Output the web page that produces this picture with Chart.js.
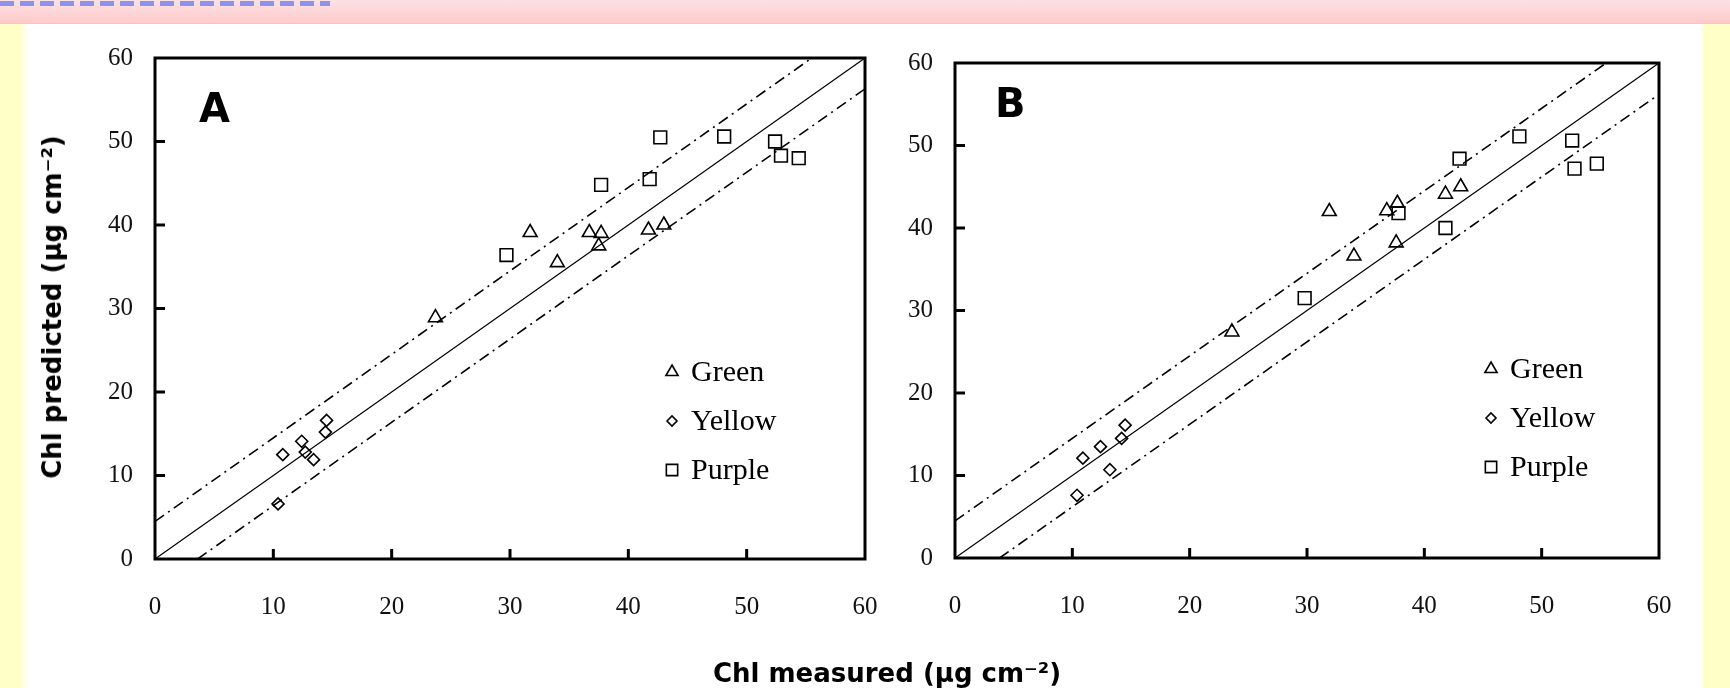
<!DOCTYPE html>
<html lang="en">
<head>
  <meta charset="UTF-8" />
  <title>Chl measured vs predicted</title>
  <script src="https://cdn.jsdelivr.net/npm/chart.js"></script>
  <style>
    body {
      margin: 0;
      width: 1730px;
      height: 688px;
      position: relative;
      overflow: hidden;
      background: #fff;
      font-family: 'DejaVu Sans', sans-serif;
    }
    .band {
      position: absolute; left: 0; top: 0; width: 1730px; height: 23px;
      background: linear-gradient(#fbe1e4, #ffcaca);
      border-bottom: 1px solid #f2c6c6;
    }
    .band-text {
      position: absolute; left: 0; top: 1px; width: 330px; height: 5px;
      background: repeating-linear-gradient(90deg, #6f7ff0 0 14px, transparent 14px 20px);
      opacity: .8;
    }
    .side-l {
      position: absolute; left: 0; top: 24px; width: 28px; height: 664px;
      background: linear-gradient(90deg, #ffffc8 70%, #fff);
    }
    .side-r {
      position: absolute; left: 1700px; top: 24px; width: 30px; height: 664px;
      background: linear-gradient(90deg, #fff, #ffffc8 15%);
    }
    .wrap { position: absolute; top: 0; }
    .title {
      position: absolute; font-weight: bold; font-size: 26px; white-space: nowrap; color: #000;
      transform: translate(-50%, -50%);
    }
    .title.y { transform: translate(-50%, -50%) rotate(-90deg); }
  </style>
</head>
<body>
  <div class="band"><div class="band-text"></div></div>
  <div class="side-l"></div>
  <div class="side-r"></div>

  <div class="wrap" style="left:0px"><canvas id="chartA" width="900" height="688"></canvas></div>
  <div class="wrap" style="left:880px"><canvas id="chartB" width="850" height="688"></canvas></div>

  <div class="title y" style="left:52px; top:307px">Chl predicted (µg cm⁻²)</div>
  <div class="title" style="left:887px; top:673px">Chl measured (µg cm⁻²)</div>

  <script>
    // axis ticks (both panels)
    const tickValues = [0, 10, 20, 30, 40, 50, 60];
    const seriesNames = ['Green', 'Yellow', 'Purple'];

    // panel A  [measured, predicted]
    const greenA = [[23.7, 28.9], [31.7, 39.1], [34.0, 35.5], [36.7, 39.1], [37.7, 39.0], [37.5, 37.5], [41.7, 39.4], [43.0, 40.0]];
    const yellowA = [[10.4, 6.6], [10.8, 12.5], [12.4, 14.1], [12.7, 12.8], [13.4, 11.9], [14.4, 15.2], [14.5, 16.6]];
    const purpleA = [[29.7, 36.4], [37.7, 44.8], [41.8, 45.5], [42.7, 50.5], [48.1, 50.6], [52.4, 50.0], [52.9, 48.3], [54.4, 48.0]];

    // panel B
    const greenB = [[23.6, 27.4], [31.9, 42.0], [34.0, 36.6], [36.8, 42.1], [37.7, 43.0], [37.6, 38.2], [41.8, 44.1], [43.1, 45.0]];
    const yellowB = [[10.4, 7.6], [10.9, 12.1], [12.4, 13.5], [13.2, 10.7], [14.2, 14.5], [14.5, 16.1]];
    const purpleB = [[29.8, 31.5], [37.8, 41.8], [41.8, 40.0], [43.0, 48.4], [48.1, 51.1], [52.6, 50.6], [52.8, 47.2], [54.7, 47.8]];

    // 1:1 line and the two dash-dot bands
    const oneToOne = [[0, 0], [60, 60]];
    const upperBand = [[0, 4.5], [55.5, 60]];
    const lowerBandA = [[3.6, 0], [60, 56.3]];
    const lowerBandB = [[3.8, 0], [60, 56.2]];

    const toXY = arr => arr.map(([x, y]) => ({ x, y }));

    function markers(label, data, style, r) {
      return {
        label, data: toXY(data), legend: true,
        pointStyle: style, pointRadius: r, pointHoverRadius: r,
        borderColor: '#000', backgroundColor: 'rgba(0,0,0,0)', borderWidth: 1.6
      };
    }
    function line(data, dash, width) {
      return {
        data: toXY(data), showLine: true, pointRadius: 0,
        borderColor: '#000', borderWidth: width, borderDash: dash
      };
    }

    const panelPlugin = {
      id: 'panel',
      afterDatasetsDraw(chart, args, opts) {
        const { ctx, chartArea: a, scales: { x, y } } = chart;
        ctx.save();
        ctx.strokeStyle = '#000';
        ctx.lineWidth = 3;
        ctx.strokeRect(a.left, a.top, a.right - a.left, a.bottom - a.top);

        // ticks pointing in
        ctx.beginPath();
        x.ticks.forEach(t => {
          if (t.value > x.min && t.value < x.max) {
            const px = x.getPixelForValue(t.value);
            ctx.moveTo(px, a.bottom); ctx.lineTo(px, a.bottom - 10);
          }
        });
        y.ticks.forEach(t => {
          if (t.value > y.min && t.value < y.max) {
            const py = y.getPixelForValue(t.value);
            ctx.moveTo(a.left, py); ctx.lineTo(a.left + 10, py);
          }
        });
        ctx.stroke();

        // panel letter
        ctx.fillStyle = '#000';
        ctx.font = 'bold 40px "DejaVu Sans"';
        ctx.textBaseline = 'alphabetic';
        ctx.fillText(opts.letter, a.left + opts.letterX, a.top + opts.letterY);

        // legend inside the plot
        ctx.font = '30px "Liberation Serif"';
        ctx.textBaseline = 'middle';
        chart.data.datasets.filter(d => d.legend).forEach((d, i) => {
          const cx = a.right - opts.legendRight;
          const cy = a.bottom - opts.legendBottom + i * 49;
          ctx.fillStyle = 'rgba(0,0,0,0)';
          ctx.lineWidth = d.borderWidth;
          Chart.helpers.drawPoint(ctx, { pointStyle: d.pointStyle, radius: d.pointRadius - 1, borderWidth: d.borderWidth, rotation: 0 }, cx, cy);
          ctx.fillStyle = '#000';
          ctx.fillText(d.label, cx + 19, cy + 1);
        });
        ctx.restore();
      }
    };

    function makeOptions(area, w, h, panel) {
      const tickFont = { family: '"Liberation Serif"', size: 25 };
      return {
        responsive: false,
        animation: false,
        events: [],
        layout: { padding: { left: 0, top: area.top, right: w - area.right, bottom: 0 } },
        plugins: {
          legend: { display: false },
          tooltip: { enabled: false },
          panel
        },
        scales: {
          x: {
            type: 'linear', min: 0, max: 60,
            grid: { display: false }, border: { display: false },
            afterBuildTicks: s => { s.ticks = tickValues.map(v => ({ value: v })); },
            ticks: { color: '#111', font: tickFont, padding: 25, maxRotation: 0, autoSkip: false },
            afterFit: s => { s.height = h - area.bottom; s.paddingLeft = 0; s.paddingRight = 0; }
          },
          y: {
            type: 'linear', min: 0, max: 60,
            grid: { display: false }, border: { display: false },
            afterBuildTicks: s => { s.ticks = tickValues.map(v => ({ value: v })); },
            ticks: { color: '#111', font: tickFont, padding: 14, autoSkip: false },
            afterFit: s => { s.width = area.left; s.paddingTop = 0; s.paddingBottom = 0; }
          }
        }
      };
    }

    function datasets(g, yl, p, lower) {
      return [
        markers(seriesNames[0], g, 'triangle', 8),
        markers(seriesNames[1], yl, 'rectRot', 6),
        markers(seriesNames[2], p, 'rect', 9),
        line(oneToOne, [], 1.2),
        line(upperBand, [11, 5, 2, 5], 1.6),
        line(lower, [11, 5, 2, 5], 1.6)
      ];
    }

    new Chart(document.getElementById('chartA'), {
      type: 'scatter',
      data: { datasets: datasets(greenA, yellowA, purpleA, lowerBandA) },
      options: makeOptions({ left: 155, top: 58, right: 865, bottom: 559 }, 900, 688,
        { letter: 'A', letterX: 44, letterY: 64, legendRight: 193, legendBottom: 187 }),
      plugins: [panelPlugin]
    });

    new Chart(document.getElementById('chartB'), {
      type: 'scatter',
      data: { datasets: datasets(greenB, yellowB, purpleB, lowerBandB) },
      options: makeOptions({ left: 75, top: 63, right: 779, bottom: 558 }, 850, 688,
        { letter: 'B', letterX: 40, letterY: 54, legendRight: 168, legendBottom: 189 }),
      plugins: [panelPlugin]
    });
  </script>
</body>
</html>
